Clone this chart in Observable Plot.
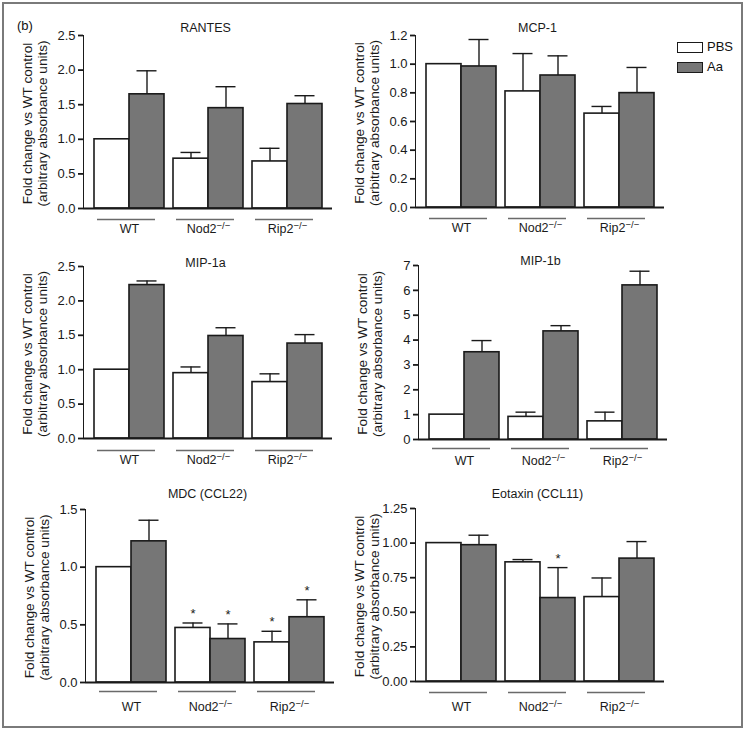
<!DOCTYPE html>
<html>
<head>
<meta charset="utf-8">
<script src="https://cdn.jsdelivr.net/npm/d3@7"></script>
<script src="https://cdn.jsdelivr.net/npm/@observablehq/plot@0.6"></script>
<style>
  html, body { margin: 0; padding: 0; background: #fff; }
  #root { position: relative; width: 746px; height: 731px; overflow: hidden; font-family: "Liberation Sans", Arial, Helvetica, sans-serif; color: #111; }
  #frame { position: absolute; left: 2px; top: 2px; width: 741px; height: 726px; box-sizing: border-box; border: 2px solid #7a7a7a; }
  .panel { position: absolute; }
  .panel svg { overflow: visible; }
  .panel svg [aria-label^="y-axis"] { stroke-width: 1.8; }
  .panel svg [aria-label="y-axis tick label"] { font-size: 13px; }
  #tag { position: absolute; left: 17px; top: 18px; font-size: 13px; }
  .leg { position: absolute; font-size: 13px; line-height: 12px; }
  .leg .box { position: absolute; left: 0; top: 0; width: 24px; height: 9px; border: 1.3px solid #1a1a1a; }
  .leg .lab { position: absolute; left: 30px; top: -1px; }
</style>
</head>
<body>
<div id="root">
  <div id="frame"></div>
  <div id="tag">(b)</div>
  <div class="leg" style="left:677px; top:42px;"><div class="box" style="background:#ffffff"></div><div class="lab">PBS</div></div>
  <div class="leg" style="left:677px; top:62px;"><div class="box" style="background:#767676"></div><div class="lab">Aa</div></div>
</div>
<script>
// ---------- data ----------
const groups = ["WT", "Nod2", "Rip2"];
const groupLabels = ["WT", "Nod2−/−", "Rip2−/−"];
const treatments = ["PBS", "Aa"];
const yLabel1 = "Fold change vs WT control";
const yLabel2 = "(arbitrary absorbance units)";

// RANTES
const rantesPBS    = [1.00, 0.72, 0.68];
const rantesPBSTop = [null, 0.81, 0.87];
const rantesAa     = [1.65, 1.45, 1.51];
const rantesAaTop  = [1.99, 1.76, 1.63];
const rantesTicks  = [0, 0.5, 1.0, 1.5, 2.0, 2.5];

// MCP-1
const mcpPBS    = [1.00, 0.81, 0.655];
const mcpPBSTop = [null, 1.074, 0.705];
const mcpAa     = [0.984, 0.921, 0.798];
const mcpAaTop  = [1.172, 1.058, 0.977];
const mcpTicks  = [0, 0.2, 0.4, 0.6, 0.8, 1.0, 1.2];

// MIP-1a
const mip1aPBS    = [1.00, 0.95, 0.82];
const mip1aPBSTop = [null, 1.04, 0.94];
const mip1aAa     = [2.23, 1.49, 1.38];
const mip1aAaTop  = [2.29, 1.61, 1.51];
const mip1aTicks  = [0, 0.5, 1.0, 1.5, 2.0, 2.5];

// MIP-1b
const mip1bPBS    = [1.00, 0.91, 0.73];
const mip1bPBSTop = [null, 1.10, 1.10];
const mip1bAa     = [3.51, 4.35, 6.20];
const mip1bAaTop  = [3.98, 4.58, 6.77];
const mip1bTicks  = [0, 1, 2, 3, 4, 5, 6, 7];

// MDC (CCL22)
const mdcPBS    = [1.00, 0.473, 0.348];
const mdcPBSTop = [null, 0.516, 0.444];
const mdcAa     = [1.224, 0.377, 0.566];
const mdcAaTop  = [1.407, 0.508, 0.717];
const mdcSigPBS = [false, true, true];
const mdcSigAa  = [false, true, true];
const mdcTicks  = [0, 0.5, 1.0, 1.5];

// Eotaxin (CCL11)
const eotPBS    = [1.00, 0.861, 0.61];
const eotPBSTop = [null, 0.881, 0.748];
const eotAa     = [0.985, 0.603, 0.888];
const eotAaTop  = [1.057, 0.823, 1.011];
const eotSigPBS = [false, false, false];
const eotSigAa  = [false, true, false];
const eotTicks  = [0, 0.25, 0.50, 0.75, 1.00, 1.25];

// ---------- panels ----------
const panels = [
  {title: "RANTES", pbs: rantesPBS, pbsTop: rantesPBSTop, aa: rantesAa, aaTop: rantesAaTop, ticks: rantesTicks, fmt: ".1f",
   left: 0, top: 0, zero: 208, titleDy: -3, lineDy: 11, labPad: 16},
  {title: "MCP-1", pbs: mcpPBS, pbsTop: mcpPBSTop, aa: mcpAa, aaTop: mcpAaTop, ticks: mcpTicks, fmt: ".1f",
   left: 332, top: 0, zero: 207, titleDy: -3, lineDy: 11, labPad: 16},
  {title: "MIP-1a", pbs: mip1aPBS, pbsTop: mip1aPBSTop, aa: mip1aAa, aaTop: mip1aAaTop, ticks: mip1aTicks, fmt: ".1f",
   left: 0, top: 231, zero: 207, titleDy: 1, lineDy: 12, labPad: 17},
  {title: "MIP-1b", pbs: mip1bPBS, pbsTop: mip1bPBSTop, aa: mip1bAa, aaTop: mip1bAaTop, ticks: mip1bTicks, fmt: "d",
   left: 335, top: 230, zero: 209, titleDy: 0, lineDy: 9, labPad: 17},
  {title: "MDC (CCL22)", pbs: mdcPBS, pbsTop: mdcPBSTop, aa: mdcAa, aaTop: mdcAaTop, sigPBS: mdcSigPBS, sigAa: mdcSigAa, ticks: mdcTicks, fmt: ".1f",
   left: 2, top: 474, zero: 208, titleDy: -11, lineDy: 9, labPad: 20},
  {title: "Eotaxin (CCL11)", pbs: eotPBS, pbsTop: eotPBSTop, aa: eotAa, aaTop: eotAaTop, sigPBS: eotSigPBS, sigAa: eotSigAa, ticks: eotTicks, fmt: ".2f",
   left: 332, top: 473, zero: 208, titleDy: -10, lineDy: 11, labPad: 21}
];

const W = 340, H = 250, ML = 83, MR = 8, MT = 35;
const padInner = 9 / 79, padOuter = 10.5 / 79;
const bw = d3.scaleBand().domain(groups).range([ML, W - MR]).paddingInner(padInner).paddingOuter(padOuter).bandwidth();
const half = bw / 2, q = bw / 4, cap = 10;
const ink = "#1a1a1a", grey = "#767676";

const root = document.getElementById("root");

panels.forEach(p => {
  const pbsRows = groups.map((g, i) => ({group: g, value: p.pbs[i], top: p.pbsTop[i], sig: p.sigPBS ? p.sigPBS[i] : false}));
  const aaRows  = groups.map((g, i) => ({group: g, value: p.aa[i],  top: p.aaTop[i],  sig: p.sigAa ? p.sigAa[i] : false}));
  const pbsErr = pbsRows.filter(d => d.top != null);
  const aaErr = aaRows.filter(d => d.top != null);
  const ymax = p.ticks[p.ticks.length - 1];

  const svg = Plot.plot({
    width: W, height: H,
    marginLeft: ML, marginRight: MR, marginTop: MT, marginBottom: H - p.zero,
    style: {fontFamily: '"Liberation Sans", Arial, Helvetica, sans-serif', fontSize: "12.5px", color: ink, background: "transparent", overflow: "visible"},
    x: {domain: groups, paddingInner: padInner, paddingOuter: padOuter, axis: "bottom", tickSize: 0, tickPadding: p.labPad,
        tickFormat: d => groupLabels[groups.indexOf(d)], label: null},
    y: {domain: [0, ymax], ticks: p.ticks, tickFormat: d3.format(p.fmt), tickSize: 5, tickPadding: 3, line: true, label: null},
    marks: [
      Plot.barY(pbsRows, {x: "group", y: "value", fill: "#ffffff", stroke: ink, strokeWidth: 1.6, insetRight: half}),
      Plot.barY(aaRows, {x: "group", y: "value", fill: grey, stroke: ink, strokeWidth: 1.6, insetLeft: half}),
      Plot.ruleX(pbsErr, {x: "group", y1: "value", y2: "top", dx: -q, stroke: ink, strokeWidth: 1.4}),
      Plot.ruleX(aaErr, {x: "group", y1: "value", y2: "top", dx: q, stroke: ink, strokeWidth: 1.4}),
      Plot.tickY(pbsErr, {x: "group", y: "top", insetLeft: q - cap, insetRight: half + q - cap, stroke: ink, strokeWidth: 1.4}),
      Plot.tickY(aaErr, {x: "group", y: "top", insetLeft: half + q - cap, insetRight: q - cap, stroke: ink, strokeWidth: 1.4}),
      Plot.text(pbsRows.filter(d => d.sig), {x: "group", y: "top", text: () => "*", dx: -q, dy: -9, fontSize: 13, fill: ink}),
      Plot.text(aaRows.filter(d => d.sig), {x: "group", y: "top", text: () => "*", dx: q, dy: -9, fontSize: 13, fill: ink}),
      Plot.ruleY([0], {stroke: ink, strokeWidth: 2}),
      Plot.tickY(groups, {x: d => d, y: () => 0, dy: p.lineDy, insetLeft: 3, insetRight: 9, stroke: "#6a6a6a", strokeWidth: 1.3})
    ]
  });

  const s = d3.select(svg);
  // superscripts for knockout labels
  s.selectAll("text").each(function () {
    const t = this.textContent;
    const m = t.match(/^(Nod2|Rip2)−\/−$/);
    if (m) {
      const el = d3.select(this);
      el.text(null);
      el.append("tspan").text(m[1]);
      el.append("tspan").attr("dy", "-0.45em").attr("font-size", "9.5px").text("−/−");
    }
  });
  // title
  s.append("text")
    .attr("x", ML + (W - MR - ML) / 2 - 2)
    .attr("y", MT + p.titleDy)
    .attr("text-anchor", "middle")
    .attr("fill", ink)
    .attr("font-size", "12.5px")
    .text(p.title);
  // two-line y label
  const yc = (MT + p.zero) / 2 + 2;
  const g = s.append("g")
    .attr("transform", `translate(${ML - 56},${yc}) rotate(-90)`)
    .attr("text-anchor", "middle")
    .attr("fill", ink)
    .attr("font-size", "13.6px");
  g.append("text").attr("y", 0).attr("dy", "0.35em").text(yLabel1);
  g.append("text").attr("y", 15).attr("dy", "0.35em").text(yLabel2);

  const div = document.createElement("div");
  div.className = "panel";
  div.style.left = p.left + "px";
  div.style.top = p.top + "px";
  div.appendChild(svg);
  root.appendChild(div);
});
</script>
</body>
</html>
